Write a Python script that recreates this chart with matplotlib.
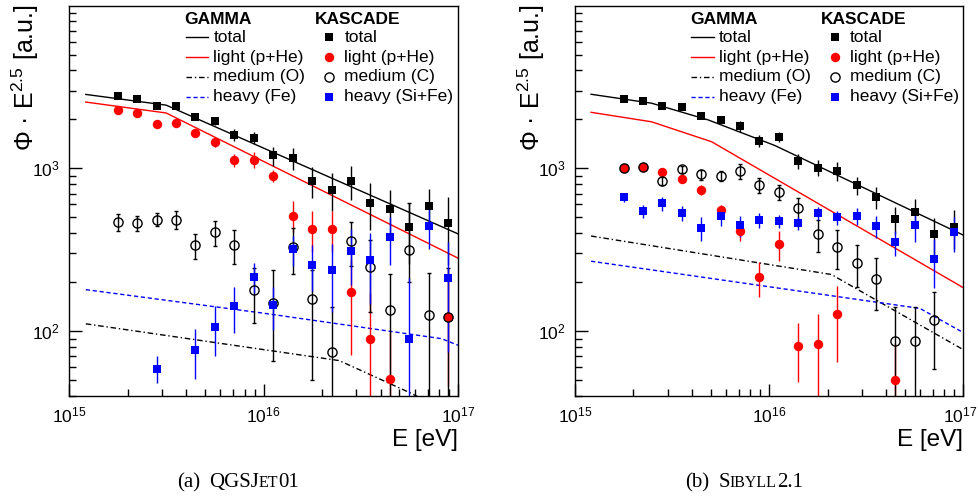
import matplotlib
matplotlib.use("Agg")
import matplotlib.pyplot as plt
import matplotlib.transforms as mtransforms
import numpy as np
from matplotlib.ticker import FixedLocator, LogLocator, NullFormatter, LogFormatterSciNotation

plt.rcParams['font.family'] = ['Liberation Sans', 'DejaVu Sans']
plt.rcParams['mathtext.fontset'] = 'custom'
plt.rcParams['mathtext.rm'] = 'Liberation Sans'
plt.rcParams['mathtext.it'] = 'Liberation Sans:italic'
plt.rcParams['mathtext.bf'] = 'Liberation Sans:bold'

# ---------------- data ----------------
energy = [1.778e15, 2.239e15, 2.818e15, 3.548e15, 4.467e15, 5.623e15, 7.079e15, 8.913e15,
          1.122e16, 1.413e16, 1.778e16, 2.239e16, 2.818e16, 3.548e16, 4.467e16, 5.623e16,
          7.079e16, 8.913e16]
nan = np.nan

# (a) QGSJet01 - KASCADE points
qgs_total = [2766, 2666, 2415, 2400, 2075, 1962, 1610, 1543, 1201, 1158, 840, 740, 840, 614, 566, 437, 585, 460]
qgs_total_err = [70, 70, 60, 60, 70, 110, 130, 130, 160, 175, 180, 190, 200, 195, 175, 177, 162, 204]
qgs_light = [2291, 2188, 1871, 1898, 1655, 1444, 1126, 1130, 902, 513, 425, 425, 173, 90, 51, nan, nan, 123]
qgs_light_lo = [60, 60, 50, 50, 60, 100, 100, 124, 80, 105, 120, 120, 102, 89, 50, nan, nan, 77]
qgs_light_hi = [60, 60, 50, 50, 60, 95, 100, 124, 80, 115, 120, 120, 100, 82, 48, nan, nan, 122]
qgs_medium = [469, 462, 485, 485, 337, 405, 337, 178, 149, 328, 158, 75, 357, 247, 134, 314, 126, 123]
qgs_medium_lo = [55, 50, 45, 60, 59, 73, 80, 66, 83, 103, 108, 75, 107, 115, 134, 114, 126, 123]
qgs_medium_hi = [55, 50, 45, 60, 59, 73, 80, 66, 87, 103, 78, 66, 110, 118, 92, 300, 102, 122]
qgs_heavy = [nan, nan, 59, nan, 77, 106, 142, 216, 145, 318, 256, 237, 310, 273, 381, 89, 445, 213]
qgs_heavy_lo = [nan, nan, 11, nan, 26, 36, 45, 45, 43, 65, 80, 105, 117, 126, 125, 89, 127, 139]
qgs_heavy_hi = [nan, nan, 11, nan, 26, 36, 45, 45, 43, 65, 80, 105, 117, 126, 125, 124, 127, 139]

# (a) QGSJet01 - GAMMA curves
qgs_curve_E = [1.22e15, 3.16e15, 1e17]
qgs_curve_total = [2844, 2444, 396]
qgs_curve_light = [2553, 2188, 281]
qgs_curve_E_medium = [1.22e15, 2.45e16, 5.56e16, 1e17]
qgs_curve_medium = [111, 66, 42.3, 30]
qgs_curve_E_heavy = [1.22e15, 1e16, 8.22e16, 1e17]
qgs_curve_heavy = [180, 129, 90, 82]

# (b) Sibyll2.1 - KASCADE points
sib_total = [2679, 2594, 2404, 2393, 2088, 1983, 1812, 1479, 1552, 1113, 1008, 962, 787, 664, 486, 541, 393, 437]
sib_total_err = [70, 70, 60, 60, 60, 90, 145, 125, 110, 120, 110, 125, 100, 105, 92, 105, 100, 117]
sib_light = [1000, 1023, 953, 859, 735, 552, 414, 214, 341, 81, 84, 127, nan, nan, 50, nan, nan, nan]
sib_light_lo = [40, 40, 55, 45, 50, 47, 56, 52, 72, 32, 44, 62, nan, nan, 50, nan, nan, nan]
sib_light_hi = [40, 40, 55, 45, 50, 47, 56, 52, 72, 32, 44, 62, nan, nan, 35, nan, nan, nan]
sib_medium = [1000, 1023, 836, 986, 918, 901, 962, 787, 714, 568, 393, 330, 263, 209, 87, 87, 117, nan]
sib_medium_err = [30, 30, 50, 55, 65, 60, 100, 85, 78, 90, 88, 88, 75, 74, 54, 54, 58, nan]
sib_heavy = [664, 545, 610, 533, 431, 509, 447, 483, 472, 463, 533, 500, 509, 442, 351, 447, 276, 405]
sib_heavy_err = [40, 47, 60, 58, 72, 66, 66, 50, 43, 43, 50, 50, 58, 66, 60, 94, 93, 100]

# (b) Sibyll2.1 - GAMMA curves
sib_curve_E_total = [1.21e15, 2.48e15, 4.86e15, 1.07e16, 1e17]
sib_curve_total = [2851, 2512, 1982, 1381, 389]
sib_curve_E_light = [1.21e15, 2.48e15, 5.06e15, 1e17]
sib_curve_light = [2209, 1931, 1456, 185]
sib_curve_E_medium = [1.21e15, 2.09e16, 1e17]
sib_curve_medium = [384, 223, 77]
sib_curve_E_heavy = [1.21e15, 5.98e16, 1e17]
sib_curve_heavy = [269, 138, 98]

gamma_labels = ['total', 'light (p+He)', 'medium (O)', 'heavy (Fe)']
kascade_labels = ['total', 'light (p+He)', 'medium (C)', 'heavy (Si+Fe)']

RED = '#ff0000'
BLUE = '#0000ff'
DASHDOT = (0, (4, 2, 1, 2))
DASHED = (0, (3, 2))

# ---------------- figure ----------------
W, H = 979, 497
fig = plt.figure(figsize=(W / 100, H / 100), dpi=100)


def px_axes(x0, x1, y0, y1):
    return fig.add_axes([x0 / W, 1 - y1 / H, (x1 - x0) / W, (y1 - y0) / H])


def points(ax, y, lo, hi, style):
    x = np.array(energy)
    y = np.array(y, dtype=float)
    lo = np.array(lo, dtype=float)
    hi = np.array(hi, dtype=float)
    m = ~np.isnan(y)
    ax.errorbar(x[m], y[m], yerr=[lo[m], hi[m]], capsize=1.6, elinewidth=1.0,
                capthick=1.0, linestyle='none', **style)


sq_black = dict(marker='s', color='k', ms=6.2, mew=0)
ci_red = dict(marker='o', color=RED, ms=6.8, mew=0)
ci_open = dict(marker='o', color='k', mfc='none', mec='k', ms=6.6, mew=1.0)
sq_blue = dict(marker='s', color=BLUE, ms=6.2, mew=0)


def style_axes(ax):
    ax.set_xscale('log')
    ax.set_yscale('log')
    ax.set_xlim(1e15, 1e17)
    ax.set_ylim(40, 1e4)
    ax.yaxis.set_major_locator(FixedLocator([1e2, 1e3]))
    ax.yaxis.set_major_formatter(LogFormatterSciNotation())
    ax.yaxis.set_minor_locator(LogLocator(base=10, subs=np.arange(2, 10)))
    ax.yaxis.set_minor_formatter(NullFormatter())
    ax.xaxis.set_major_locator(FixedLocator([1e15, 1e16, 1e17]))
    ax.xaxis.set_major_formatter(LogFormatterSciNotation())
    ax.xaxis.set_minor_locator(LogLocator(base=10, subs=np.arange(2, 10)))
    ax.xaxis.set_minor_formatter(NullFormatter())
    ax.tick_params(which='both', direction='in', top=False, right=False,
                   width=1.0, labelsize=12.5, pad=7)
    ax.tick_params(which='major', length=9)
    ax.tick_params(which='minor', length=4.8)
    for s in ax.spines.values():
        s.set_linewidth(1.0)
    ax.text(1.0, -0.1125, 'E [eV]', transform=ax.transAxes, ha='right', va='center',
            fontsize=17.5)


def legend(ax):
    ys = [0.919, 0.868, 0.817, 0.766]
    fs = 12.5
    ax.text(0.2956, 0.963, 'GAMMA', transform=ax.transAxes, fontsize=fs,
            fontweight='bold', va='center', ha='left')
    ax.text(0.632, 0.963, 'KASCADE', transform=ax.transAxes, fontsize=fs,
            fontweight='bold', va='center', ha='left')
    lstyles = [dict(color='k', lw=1.0), dict(color=RED, lw=1.0),
               dict(color='k', lw=1.0, linestyle=DASHDOT),
               dict(color=BLUE, lw=1.0, linestyle=DASHED)]
    mstyles = [sq_black, ci_red, ci_open, sq_blue]
    for y, gl, kl, ls, ms in zip(ys, gamma_labels, kascade_labels, lstyles, mstyles):
        ax.plot([0.300, 0.358], [y, y], transform=ax.transAxes, clip_on=False, **ls)
        ax.text(0.371, y, gl, transform=ax.transAxes, fontsize=fs, va='center', ha='left')
        ax.plot([0.669], [y], transform=ax.transAxes, clip_on=False, linestyle='none', **ms)
        ax.text(0.708, y, kl, transform=ax.transAxes, fontsize=fs, va='center', ha='left')


# ---- panel (a)
axa = px_axes(69, 458, 5.5, 396)
style_axes(axa)
axa.plot(qgs_curve_E, qgs_curve_total, color='k', lw=1.0)
axa.plot(qgs_curve_E, qgs_curve_light, color=RED, lw=1.0)
axa.plot(qgs_curve_E_medium, qgs_curve_medium, color='k', lw=1.0, linestyle=DASHDOT)
axa.plot(qgs_curve_E_heavy, qgs_curve_heavy, color=BLUE, lw=1.0, linestyle=DASHED)
points(axa, qgs_total, qgs_total_err, qgs_total_err, sq_black)
points(axa, qgs_light, qgs_light_lo, qgs_light_hi, ci_red)
points(axa, qgs_medium, qgs_medium_lo, qgs_medium_hi, ci_open)
points(axa, qgs_heavy, qgs_heavy_lo, qgs_heavy_hi, sq_blue)
legend(axa)

# ---- panel (b)
axb = px_axes(575, 963.3, 5.5, 396)
style_axes(axb)
axb.plot(sib_curve_E_total, sib_curve_total, color='k', lw=1.0)
axb.plot(sib_curve_E_light, sib_curve_light, color=RED, lw=1.0)
axb.plot(sib_curve_E_medium, sib_curve_medium, color='k', lw=1.0, linestyle=DASHDOT)
axb.plot(sib_curve_E_heavy, sib_curve_heavy, color=BLUE, lw=1.0, linestyle=DASHED)
points(axb, sib_total, sib_total_err, sib_total_err, sq_black)
points(axb, sib_light, sib_light_lo, sib_light_hi, ci_red)
points(axb, sib_medium, sib_medium_err, sib_medium_err, ci_open)
points(axb, sib_heavy, sib_heavy_err, sib_heavy_err, sq_blue)
legend(axb)

# keep the last x tick label of panel (b) inside the figure
last = axb.xaxis.get_major_ticks()[-1].label1
last.set_transform(last.get_transform() +
                   mtransforms.ScaledTranslation(-3 / 100, 0, fig.dpi_scale_trans))

# y labels
for xc in (25, 531):
    fig.text(xc / W, 1 - 4 / H, 'Φ · E$^{2.5}$ [a.u.]', rotation=90, ha='center',
             va='top', fontsize=18)

# captions with small caps
renderer = fig.canvas.get_renderer()


def caption(xc, ybase, pieces):
    objs = []
    total = 0
    for s, size, gap in pieces:
        t = fig.text(0, 1 - ybase / H, s, fontsize=size, family='Liberation Serif',
                     ha='left', va='baseline')
        w = t.get_window_extent(renderer).width
        objs.append((t, w, gap))
        total += w + gap
    x = xc - total / 2
    for t, w, gap in objs:
        t.set_x(x / W)
        x += w + gap


big, small = 15, 11.5
caption(238, 487, [('(a)', big, 9), ('QGSJ', big, 0), ('ET', small, 0), ('01', big, 0)])
caption(744, 487, [('(b)', big, 9), ('S', big, 0), ('IBYLL', small, 0), ('2.1', big, 0)])

fig.savefig('out.png', dpi=100)
